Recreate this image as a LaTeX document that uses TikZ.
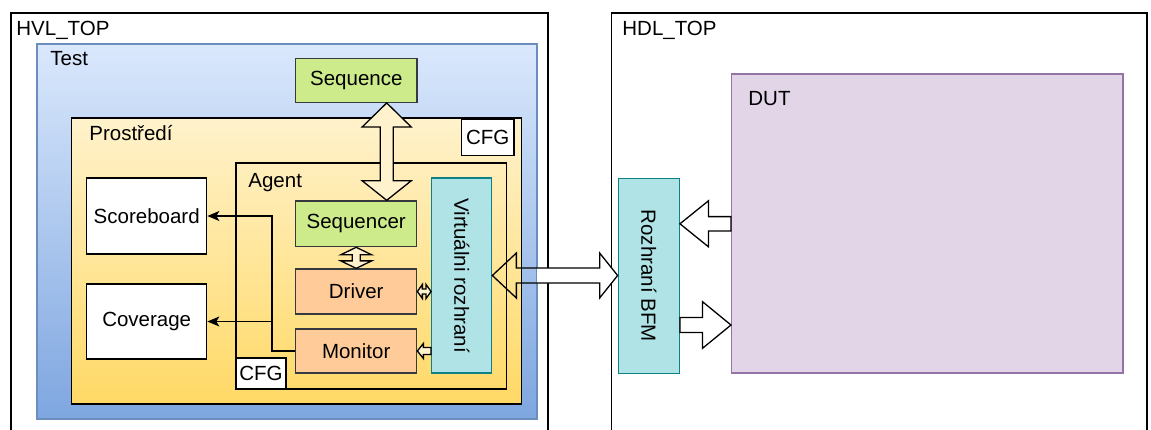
\documentclass[tikz,border=0pt]{standalone}
\usepackage{fontspec}
\setmainfont{Liberation Sans}
\usetikzlibrary{calc,positioning,arrows.meta}
\definecolor{seqgreen}{HTML}{CDEB8B}
\definecolor{drvorange}{HTML}{FFCC99}
\definecolor{ifcyan}{HTML}{B0E3E6}
\definecolor{ifcyanln}{HTML}{0E8088}
\definecolor{dutlilac}{HTML}{E1D5E7}
\definecolor{dutlilacln}{HTML}{9673A6}
\definecolor{testtop}{HTML}{DAE8FC}
\definecolor{testbot}{HTML}{7EA6E0}
\definecolor{testln}{HTML}{6C8EBF}
\definecolor{envtop}{HTML}{FFF2CC}
\definecolor{envbot}{HTML}{FFD966}
\definecolor{boxln}{HTML}{36393D}
\tikzset{
    wh/.style 2 args={minimum width=#1*0.5pt, minimum height=#2*0.5pt},
    box/.style={draw=black, line width=0.65pt, fill=white, inner sep=0pt},
    grnbox/.style={box, fill=seqgreen, draw=boxln},
    orgbox/.style={box, fill=drvorange, draw=boxln},
    cyanbox/.style={box, fill=ifcyan, draw=ifcyanln},
    lbl/.style={anchor=base west, inner sep=0pt},
    frame/.style={draw=black, line width=0.65pt},
    blockarr/.style={draw=black, line width=0.65pt, fill=envtop},
    sig/.style={line width=0.65pt, -{Stealth[length=6pt,width=5pt,inset=1.5pt]}},
  }
% block arrows: [style]{from}{to}{shaft half}{head half}{head len(s)}
\newcommand{\dblarrv}[7][]{%
  \draw[#1] (#2) -- ++(#5,#6) -- ++({#4-#5},0) -- ($(#3)+(#4,-#7)$) -- ++({#5-#4},0)
    -- (#3) -- ++(-#5,-#7) -- ++({#5-#4},0) -- ($(#2)+(-#4,#6)$) -- ++({#4-#5},0) -- cycle;}
\newcommand{\dblarrh}[7][]{%
  \draw[#1] (#2) -- ++(#6,-#5) -- ++(0,{#5-#4}) -- ($(#3)+(-#7,-#4)$) -- ++(0,{#4-#5})
    -- (#3) -- ++(-#7,#5) -- ++(0,{#4-#5}) -- ($(#2)+(#6,#4)$) -- ++(0,{#5-#4}) -- cycle;}
\newcommand{\sglarr}[6][]{%
  \draw[#1] (#2) -- ++(#6,-#5) -- ++(0,{#5-#4}) -- ($(#3)+(0,-#4)$) -- ($(#3)+(0,#4)$)
    -- ($(#2)+(#6,#4)$) -- ++(0,{#5-#4}) -- cycle;}

\begin{document}
\begin{tikzpicture}[x=0.5pt,y=-0.5pt,font=\fontsize{10.25}{12}\selectfont]
    %units are pixels of the screen shot, y goes down
    \path[use as bounding box,clip] (0,0) rectangle (1151,429);
    %containers
    \draw[frame, fill=white] (11,13) rectangle (548,440);
    \draw[frame, fill=white] (611.7,13) rectangle (1147,440);
    \draw[draw=testln, line width=0.65pt, top color=testtop, bottom color=testbot] (37,44) rectangle (537,419);
    \draw[frame, top color=envtop, bottom color=envbot] (71.7,118) rectangle (521.7,404);
    \draw[frame] (236,163) rectangle (506.7,389);
    \node[lbl] (hvl) at (16,35) {HVL\_TOP};
    \node[lbl] (hdl) at (622,35) {HDL\_TOP};
    \node[lbl] (test) at (50,65) {Test};
    \node[lbl] (env) at (89,140) {Prostředí};
    \node[lbl] (agent) at (248,187) {Agent};
    %blocks
    \node[grnbox, wh={121.3}{44}] (seq) at (356.3,80.3) {Sequence};
    \node[box, wh={120}{76}] (scb) at (146.7,216) {Scoreboard};
    \node[box, wh={120}{75}] (cov) at (146.7,321.5) {Coverage};
    \node[grnbox, wh={121}{45.7}] (sqr) at (356.2,223.8) {Sequencer};
    \node[orgbox, wh={121}{45}] (drv) at (356.2,291.5) {Driver};
    \node[orgbox, wh={121}{44}] (mon) at (356.2,351) {Monitor};
    \node[cyanbox, wh={60}{195}] (vif) at (461.7,275.5) {};
    \node[rotate=-90] (viftxt) at (vif.center) {Virtuálni rozhraní};
    \node[box, wh={52.3}{36.7}] (cfga) at (487.8,137.3) {CFG};
    \node[box, wh={50}{31}] (cfgb) at (261,373.5) {CFG};
    \node[cyanbox, wh={61}{195}] (bfm) at (648.8,275.8) {};
    \node[rotate=-90] (bfmtxt) at (bfm.center) {Rozhraní BFM};
    \node[box, fill=dutlilac, draw=dutlilacln, wh={391.3}{299}] (dut) at (927.3,223.5) {};
    \node[lbl] (duttxt) at (748,105) {DUT};
    %block arrows
    \coordinate (ax) at (386.7,0);
    \dblarrv[blockarr]{seq.south -| ax}{sqr.north -| ax}{6.5}{24.5}{24}{19.5}
    \dblarrv[blockarr]{sqr.south}{drv.north}{4}{15.5}{7.5}{7.5}
    \dblarrh[blockarr]{drv.east}{drv.east -| vif.west}{2.5}{7}{5}{5}
    \sglarr[blockarr]{mon.east}{mon.east -| vif.west}{3.5}{7.5}{6}
    \begin{scope}
      \clip (537,0) rectangle (1151,429);
      \dblarrh[fill=white, draw=none]{vif.east}{vif.east -| bfm.west}{7.5}{22.5}{24}{18}
    \end{scope}
    \dblarrh[frame]{vif.east}{vif.east -| bfm.west}{7.5}{22.5}{24}{18}
    \coordinate (ua) at (0,223.8);
    \coordinate (da) at (0,325);
    \sglarr[blockarr, fill=white]{bfm.east |- ua}{dut.west |- ua}{7.2}{23}{28.5}
    \sglarr[blockarr, fill=white]{dut.west |- da}{bfm.east |- da}{7.5}{23.3}{-28.5}
    %monitor outputs
    \coordinate (jn) at (272,0);
    \draw[sig] (mon.west) -- (mon.west -| jn) |- (scb.east);
    \draw[sig] (cov.east -| jn) -- (cov.east);
\end{tikzpicture}
\end{document}
